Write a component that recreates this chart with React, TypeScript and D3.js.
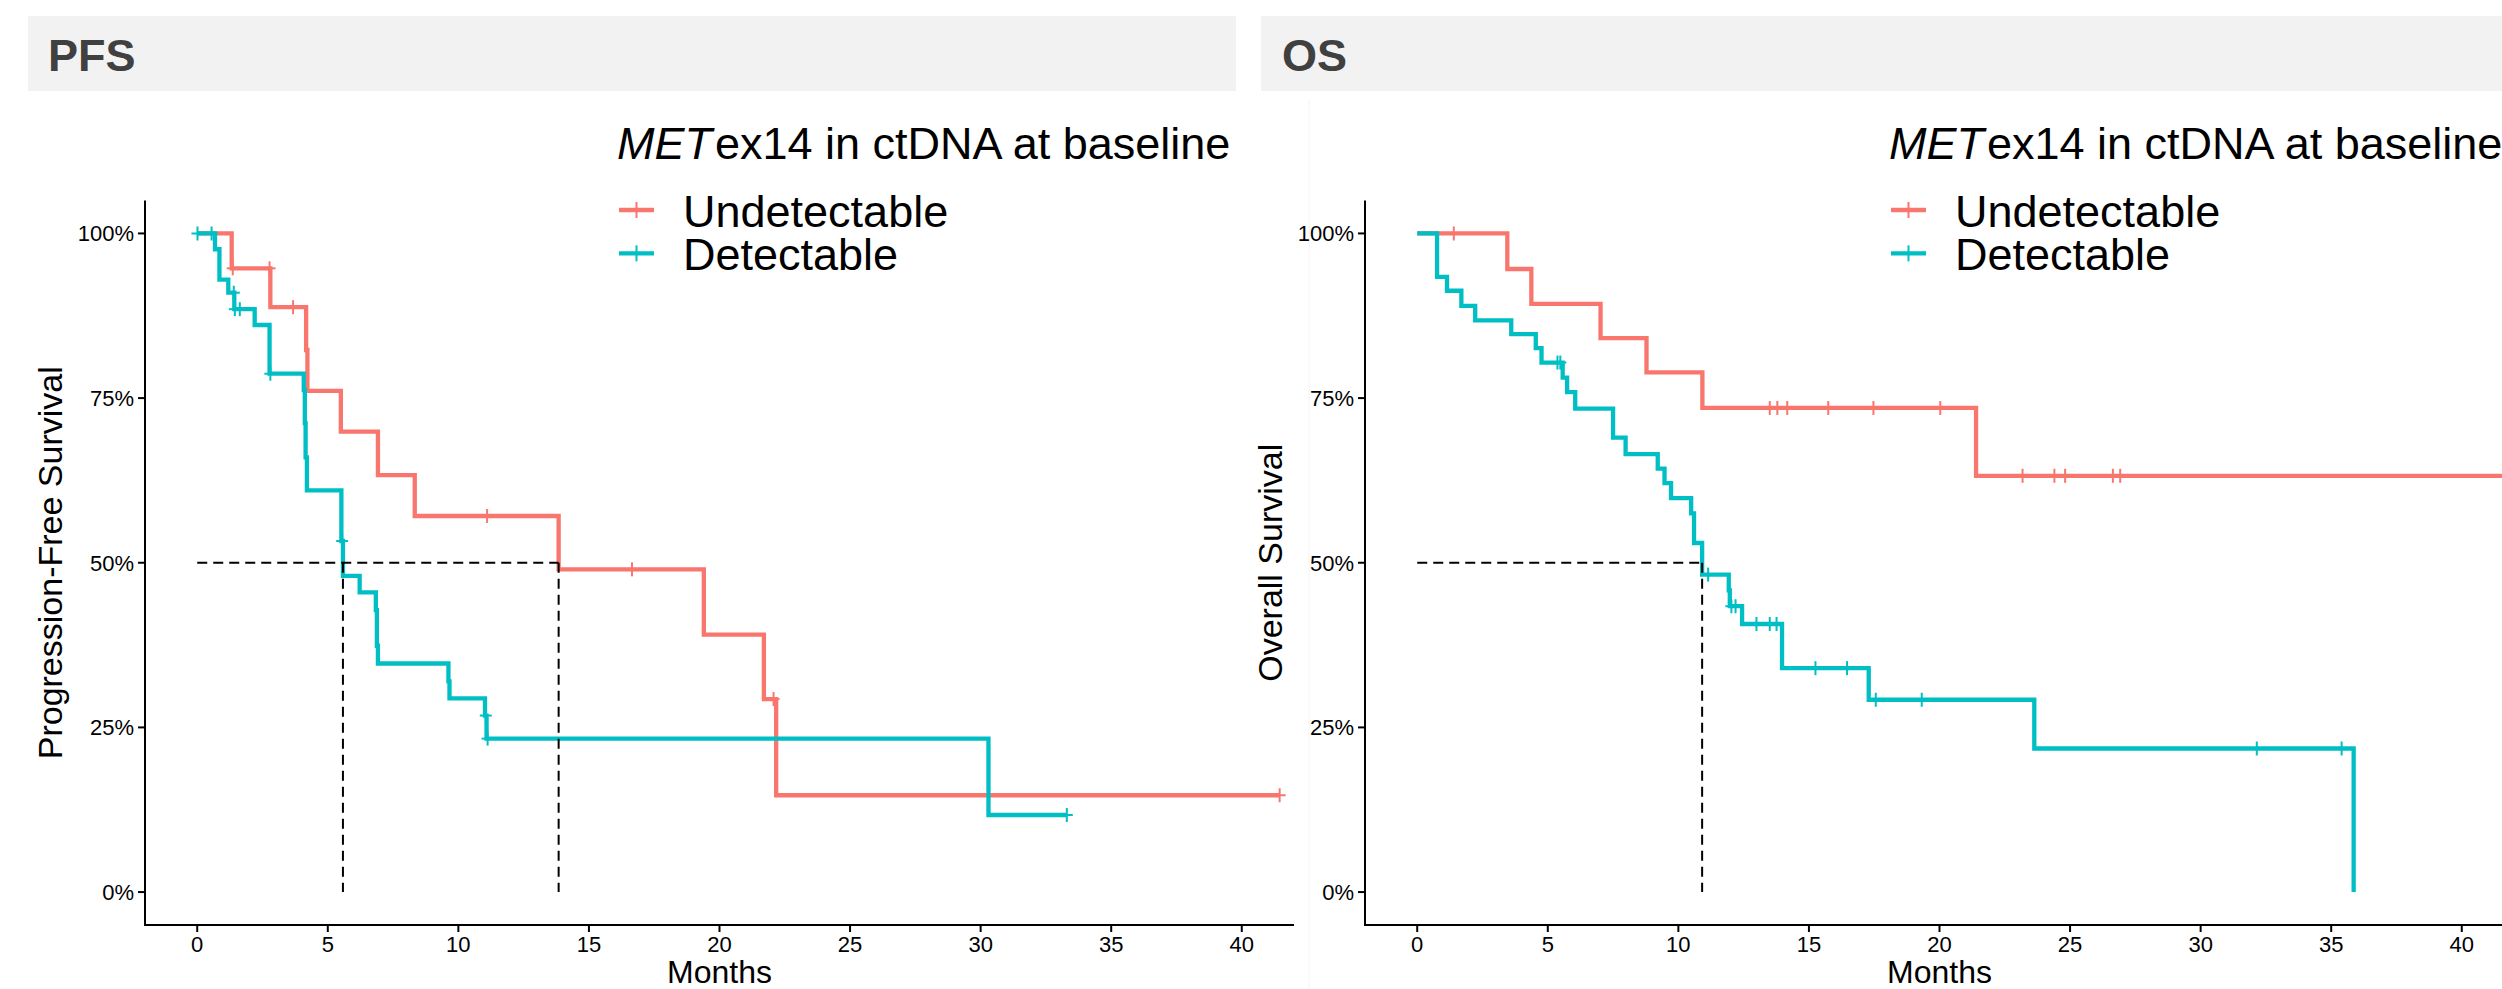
import React from 'react';
import * as d3 from 'd3';

const W = 2502;
const H = 989;
const RED = '#F8766D';
const CYAN = '#00BFC4';
const FONT = 'Liberation Sans, Arial, Helvetica, sans-serif';

// ---------- data (months, survival probability) ----------
// PFS – Undetectable
const pfsUndetTimes = [1.32, 2.8, 4.17, 4.22, 5.5, 6.92, 8.33, 13.84, 19.4, 21.7, 22.17];
const pfsUndetSurv = [0.947, 0.888, 0.823, 0.761, 0.699, 0.633, 0.571, 0.49, 0.391, 0.293, 0.147];
const pfsUndetCensor = [1.36, 2.77, 3.67, 11.1, 16.65, 22.07, 41.45];
const pfsUndetEnd = 41.45;
// PFS – Detectable
const pfsDetTimes = [0.68, 0.85, 1.19, 1.42, 2.2, 2.77, 4.08, 4.12, 4.15, 4.2, 5.52, 5.58, 6.22, 6.84, 6.88, 6.92, 9.62, 9.66, 11.02, 11.08, 30.3];
const pfsDetSurv = [0.976, 0.93, 0.91, 0.885, 0.861, 0.787, 0.762, 0.712, 0.66, 0.61, 0.533, 0.48, 0.455, 0.428, 0.374, 0.347, 0.32, 0.294, 0.268, 0.233, 0.117];
const pfsDetCensor = [0.01, 0.55, 1.4, 1.44, 1.63, 2.8, 5.55, 11.05, 11.12, 33.3];
const pfsDetEnd = 33.3;
// OS – Undetectable
const osUndetTimes = [3.45, 4.37, 7.02, 8.78, 10.92, 21.4];
const osUndetSurv = [0.946, 0.893, 0.841, 0.789, 0.735, 0.632];
const osUndetCensor = [1.4, 13.5, 13.79, 14.17, 15.74, 17.47, 20.03, 23.18, 24.4, 24.81, 26.64, 26.92];
const osUndetEnd = 44;
// OS – Detectable
const osDetTimes = [0.76, 1.14, 1.69, 2.22, 3.6, 4.54, 4.76, 5.57, 5.74, 6.05, 7.5, 7.98, 9.21, 9.47, 9.72, 10.49, 10.6, 10.91, 11.93, 11.97, 12.44, 13.97, 17.29, 23.63, 35.86];
const osDetSurv = [0.934, 0.913, 0.89, 0.868, 0.847, 0.826, 0.804, 0.781, 0.759, 0.734, 0.69, 0.665, 0.643, 0.621, 0.598, 0.575, 0.53, 0.482, 0.458, 0.434, 0.407, 0.34, 0.292, 0.218, 0];
const osDetCensor = [5.37, 5.48, 11.14, 12.03, 12.19, 12.99, 13.5, 13.76, 15.25, 16.46, 17.56, 19.32, 32.15, 35.4];
const osDetEnd = 35.86;

const groupLabels = ['Undetectable', 'Detectable'];
const groupColors = [RED, CYAN];
const xTicks = [0, 5, 10, 15, 20, 25, 30, 35, 40];
const yTicks = [0, 0.25, 0.5, 0.75, 1];
const yTickLabels = ['0%', '25%', '50%', '75%', '100%'];

type Series = { times: number[]; surv: number[]; censor: number[]; end: number; color: string };

const survAt = (s: Series, t: number) => {
  let v = 1;
  s.times.forEach((tt, i) => {
    if (tt <= t) v = s.surv[i];
  });
  return v;
};
const median = (s: Series) => {
  for (let i = 0; i < s.times.length; i++) if (s.surv[i] <= 0.5) return s.times[i];
  return null;
};

type PanelProps = {
  id: string;
  left: number;
  strip: [number, number, number];
  title: string;
  ylab: string;
  ylabX: number;
  legendX: number;
  series: Series[];
  labelClip?: number;
};

const TOP = 200.5;
const BOTTOM = 925;
const PW = 1149;

function Panel({ id, left, strip, title, ylab, ylabX, legendX, series, labelClip }: PanelProps) {
  const x = d3.scaleLinear().domain([-2, 42]).range([left, left + PW]);
  const y = d3.scaleLinear().domain([-0.05, 1.05]).range([BOTTOM, TOP]);
  const line = d3
    .line<[number, number]>()
    .x((d) => x(d[0]))
    .y((d) => y(d[1]))
    .curve(d3.curveStepAfter);
  const medians = series.map(median).filter((m) => m !== null) as number[];
  const maxMed = medians.length ? Math.max(...medians) : 0;
  const cs = 6;
  return (
    <g fontFamily={FONT}>
      <defs>
        <clipPath id={id + '-clip'}>
          <rect x={left} y={TOP} width={PW} height={BOTTOM - TOP} />
        </clipPath>
        {labelClip !== undefined && (
          <clipPath id={id + '-lclip'}>
            <rect x={labelClip} y={0} width={W} height={H} />
          </clipPath>
        )}
      </defs>
      {/* strip */}
      <rect x={strip[0]} y={16} width={strip[1] - strip[0]} height={75} fill="#F2F2F2" />
      <text x={strip[2]} y={71} fontSize={45} fontWeight="bold" fill="#404040">
        {title}
      </text>
      {/* curves */}
      <g clipPath={`url(#${id}-clip)`}>
        {series.map((s, i) => {
          const pts: [number, number][] = [[0, 1], ...s.times.map((t, j) => [t, s.surv[j]] as [number, number])];
          pts.push([s.end, s.surv[s.surv.length - 1]]);
          return <path key={i} d={line(pts) || ''} fill="none" stroke={s.color} strokeWidth={4.3} />;
        })}
        {series.map((s, i) =>
          s.censor.map((c, j) => {
            const cx = x(c);
            const cy = y(survAt(s, c));
            return (
              <g key={i + '-' + j} stroke={s.color} strokeWidth={2}>
                <line x1={cx - cs} x2={cx + cs} y1={cy} y2={cy} />
                <line x1={cx} x2={cx} y1={cy - cs - 1} y2={cy + cs + 1} />
              </g>
            );
          })
        )}
        {/* median lines */}
        {medians.length > 0 && (
          <g stroke="#000" strokeWidth={2} strokeDasharray="10,6" fill="none">
            <line x1={x(0)} x2={x(maxMed)} y1={y(0.5)} y2={y(0.5)} />
            {medians.map((m, i) => (
              <line key={i} x1={x(m)} x2={x(m)} y1={y(0.5)} y2={y(0)} />
            ))}
          </g>
        )}
      </g>
      {/* axes */}
      <line x1={left} x2={left} y1={TOP} y2={BOTTOM + 1} stroke="#000" strokeWidth={2} />
      <line x1={left - 1} x2={left + PW} y1={BOTTOM} y2={BOTTOM} stroke="#000" strokeWidth={2} />
      {yTicks.map((t, i) => (
        <g key={i}>
          <line x1={left - 7} x2={left} y1={y(t)} y2={y(t)} stroke="#000" strokeWidth={2} />
          <g clipPath={labelClip !== undefined ? `url(#${id}-lclip)` : undefined}>
            <text x={left - 11} y={y(t)} dy="0.36em" textAnchor="end" fontSize={22} fill="#000">
              {yTickLabels[i]}
            </text>
          </g>
        </g>
      ))}
      {xTicks.map((t) => (
        <g key={t}>
          <line x1={x(t)} x2={x(t)} y1={BOTTOM} y2={BOTTOM + 7} stroke="#000" strokeWidth={2} />
          <text x={x(t)} y={952} textAnchor="middle" fontSize={22} fill="#000">
            {t}
          </text>
        </g>
      ))}
      <text x={left + PW / 2} y={983} textAnchor="middle" fontSize={32} fill="#000">
        Months
      </text>
      <text
        transform={`translate(${ylabX},${(TOP + BOTTOM) / 2}) rotate(-90)`}
        textAnchor="middle"
        fontSize={34}
        fill="#000"
      >
        {ylab}
      </text>
      {/* legend */}
      <text x={legendX} y={159} fontSize={45} fill="#000">
        <tspan fontStyle="italic">MET</tspan>
        <tspan dx={3}>ex14 in ctDNA at baseline</tspan>
      </text>
      {groupLabels.map((g, i) => {
        const cy = 210 + i * 43.3;
        return (
          <g key={g}>
            <line x1={legendX + 2} x2={legendX + 37} y1={cy} y2={cy} stroke={groupColors[i]} strokeWidth={4.3} />
            <line x1={legendX + 19.5} x2={legendX + 19.5} y1={cy - 8} y2={cy + 8} stroke={groupColors[i]} strokeWidth={2} />
            <text x={legendX + 66} y={cy + 16.5} fontSize={45} fill="#000">
              {g}
            </text>
          </g>
        );
      })}
    </g>
  );
}

export default function App() {
  const pfs: Series[] = [
    { times: pfsUndetTimes, surv: pfsUndetSurv, censor: pfsUndetCensor, end: pfsUndetEnd, color: RED },
    { times: pfsDetTimes, surv: pfsDetSurv, censor: pfsDetCensor, end: pfsDetEnd, color: CYAN },
  ];
  const os: Series[] = [
    { times: osUndetTimes, surv: osUndetSurv, censor: osUndetCensor, end: osUndetEnd, color: RED },
    { times: osDetTimes, surv: osDetSurv, censor: osDetCensor, end: osDetEnd, color: CYAN },
  ];
  return (
    <svg
      width={W}
      height={H}
      style={{ position: 'absolute', left: 0, top: 0, background: '#fff' }}
      xmlns="http://www.w3.org/2000/svg"
    >
      <rect x={0} y={0} width={W} height={H} fill="#fff" />
      <line x1={1309} x2={1309} y1={100} y2={H} stroke="#f4f4f4" strokeWidth={1} />
      <Panel
        id="pfs"
        left={145}
        strip={[28, 1236, 48]}
        title="PFS"
        ylab="Progression-Free Survival"
        ylabX={62}
        legendX={617}
        series={pfs}
      />
      <Panel
        id="os"
        left={1365}
        strip={[1261, 2540, 1282]}
        title="OS"
        ylab="Overall Survival"
        ylabX={1282}
        legendX={1889}
        series={os}
        labelClip={1298}
      />
    </svg>
  );
}
